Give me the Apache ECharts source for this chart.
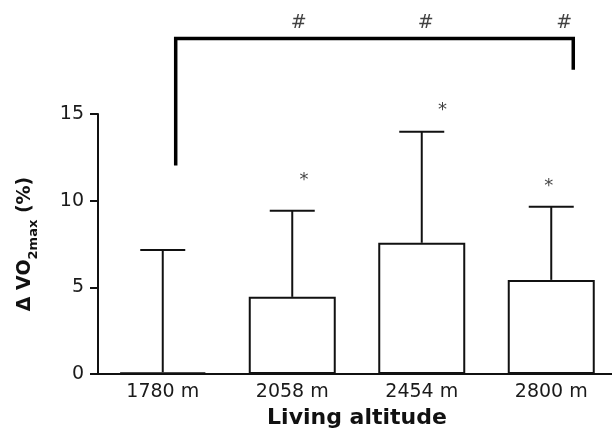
<!DOCTYPE html>
<html>
<head>
<meta charset="utf-8">
<script src="https://cdn.jsdelivr.net/npm/echarts@6.0.0/dist/echarts.min.js"></script>
<style>
  html, body { margin: 0; padding: 0; background: #fff; }
  #chart { width: 612px; height: 432px; }
</style>
</head>
<body>
<div id="chart"></div>
<script>
// Change in VO2max by living altitude: mean (bar) and upper SD (whisker)
const categories = ['1780 m', '2058 m', '2454 m', '2800 m'];
const meanChange = [0.1, 4.45, 7.57, 5.43];
const upperSD = [7.16, 9.42, 13.98, 9.65];

// significance markers, x in category units (0 = first bar centre)
const starX = [1.09, 2.16, 2.98];
const starY = [11.38, 15.42, 11.03];
const hashX = [1.05, 2.03, 3.10];
const hashY = [20.25, 20.25, 20.25];

// comparison bracket path
const bracketX = [0.10, 0.10, 3.17, 3.17];
const bracketY = [12.03, 19.35, 19.35, 17.56];

const yTicks = { min: 0, max: 15, interval: 5 };

const FONT = 'DejaVu Sans';
const INK = '#111';

const chart = echarts.init(document.getElementById('chart'), null, { renderer: 'canvas' });

const option = {
  animation: false,
  backgroundColor: '#fff',
  grid: { left: 98, right: -4, top: 114, bottom: 58, containLabel: false, outerBoundsMode: 'none' },
  xAxis: [
    {
      type: 'category',
      data: categories,
      boundaryGap: true,
      axisLine: { show: true, lineStyle: { color: INK, width: 2 } },
      axisTick: { show: false },
      axisLabel: { color: '#1a1a1a', fontFamily: FONT, fontSize: 19, margin: 9 },
      name: 'Living altitude',
      nameLocation: 'middle',
      nameGap: 33,
      nameTextStyle: { color: INK, fontFamily: FONT, fontSize: 22, fontWeight: 'bold' }
    },
    {
      type: 'value',
      min: -0.5,
      max: 3.5,
      show: false
    }
  ],
  yAxis: {
    type: 'value',
    min: yTicks.min,
    max: yTicks.max,
    interval: yTicks.interval,
    splitLine: { show: false },
    axisLine: { show: true, onZero: false, lineStyle: { color: INK, width: 2 } },
    axisTick: { show: true, length: 8, lineStyle: { color: INK, width: 2 } },
    axisLabel: { color: '#1a1a1a', fontFamily: FONT, fontSize: 19, margin: 14 },
    name: '{a|Δ VO}{s|2max}{a| (%)}',
    nameLocation: 'middle',
    nameGap: 62,
    nameRotate: 90,
    nameTextStyle: {
      rich: {
        a: { fontFamily: FONT, fontSize: 19, fontWeight: 'bold', color: INK, lineHeight: 20, verticalAlign: 'top' },
        s: { fontFamily: FONT, fontSize: 13, fontWeight: 'bold', color: INK, lineHeight: 13, padding: [11, 0, 0, 0], verticalAlign: 'top' }
      }
    }
  },
  series: [
    {
      type: 'bar',
      data: meanChange,
      barWidth: 87,
      itemStyle: { color: '#fff', borderColor: INK, borderWidth: 2 },
      z: 2
    },
    {
      type: 'custom',
      data: meanChange.map((m, i) => [i, m, upperSD[i]]),
      renderItem: function (params, api) {
        const i = api.value(0);
        const base = api.coord([i, api.value(1)]);
        const top = api.coord([i, api.value(2)]);
        const half = 22.5;
        return {
          type: 'group',
          children: [
            { type: 'line', shape: { x1: base[0], y1: base[1], x2: top[0], y2: top[1] },
              style: { stroke: INK, lineWidth: 2 } },
            { type: 'line', shape: { x1: top[0] - half, y1: top[1], x2: top[0] + half, y2: top[1] },
              style: { stroke: INK, lineWidth: 2 } }
          ]
        };
      },
      z: 3
    },
    {
      type: 'line',
      xAxisIndex: 1,
      data: bracketX.map((x, i) => [x, bracketY[i]]),
      symbol: 'none',
      clip: false,
      lineStyle: { color: '#000', width: 3.5, join: 'miter', cap: 'butt' },
      z: 4
    },
    {
      type: 'scatter',
      xAxisIndex: 1,
      data: starX.map((x, i) => [x, starY[i]]),
      symbolSize: 0,
      clip: false,
      label: { show: true, position: 'inside', formatter: '*', fontFamily: FONT, fontSize: 18, color: INK, offset: [0, 4] },
      z: 5
    },
    {
      type: 'scatter',
      xAxisIndex: 1,
      data: hashX.map((x, i) => [x, hashY[i]]),
      symbolSize: 0,
      clip: false,
      label: { show: true, position: 'inside', formatter: '#', fontFamily: FONT, fontSize: 19, color: INK },
      z: 5
    }
  ]
};

chart.setOption(option);
</script>
</body>
</html>
